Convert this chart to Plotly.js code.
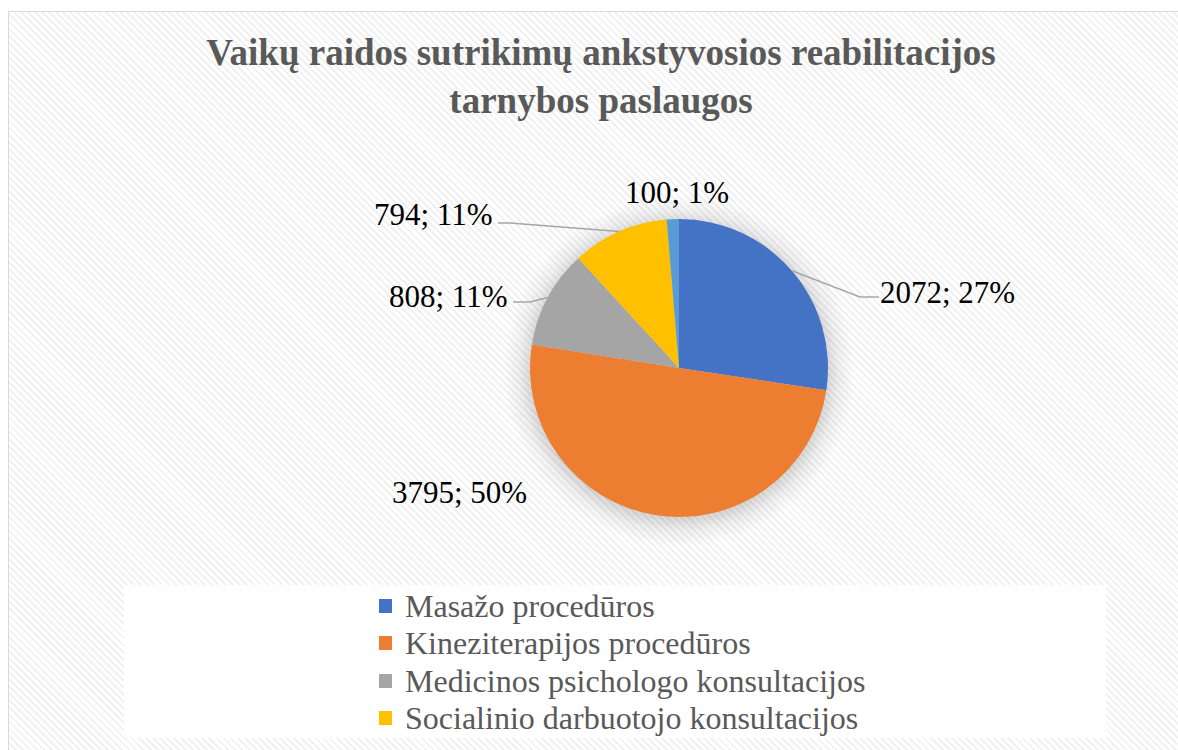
<!DOCTYPE html>
<html><head><meta charset="utf-8">
<script src="https://cdn.plot.ly/plotly-3.0.1.min.js"></script>
<style>
html,body{margin:0;padding:0;background:#fff;}
#wrap{position:relative;width:1178px;height:750px;overflow:hidden;background:#fff;}
#frame{position:absolute;left:8px;top:11px;width:1220px;height:800px;border:1px solid #d9d9d9;
 background:
  radial-gradient(circle at 670px 359px, rgba(0,0,0,0.15) 148px, rgba(0,0,0,0.06) 160px, rgba(0,0,0,0) 176px),
  repeating-linear-gradient(45deg,#ffffff 0px,#ffffff 3px,#f1f1f1 3px,#f1f1f1 5px);}
#chart{position:absolute;left:0;top:0;width:1178px;height:750px;}
</style></head>
<body>
<div id="wrap"><div id="frame"></div><div id="chart"></div></div>
<script>
// ---- data ----
const categories = ['Masažo procedūros','Kineziterapijos procedūros','Medicinos psichologo konsultacijos','Socialinio darbuotojo konsultacijos','Kitos paslaugos'];
const values = [2072, 3795, 808, 794, 100];
const percentLabels = ['27%', '50%', '11%', '11%', '1%'];
const colors = ['#4472C4', '#ED7D31', '#A5A5A5', '#FFC000', '#5B9BD5'];
const legendShown = 4;
const titleText = 'Vaikų raidos sutrikimų ankstyvosios reabilitacijos<br>tarnybos paslaugos';

// ---- layout geometry (pixels) ----
const W = 1178, H = 750;
const FONT = 'Liberation Serif';
const cx = 679, cy = 368, R = 149;
const labelCenters = [[947, 292], [459, 492], [448, 296], [433, 214], [677, 192]];
const leaderElbows = [[[860, 297], [879, 297]], null, [[530, 302], [513, 302]], [[510, 223], [498, 223]], null];
const px = x => x / W, py = y => 1 - y / H;

const total = values.reduce((a, b) => a + b, 0);
let cum = 0;
const shapes = [], annotations = [];
values.forEach((v, i) => {
  const mid = (cum + v / 2) / total * 2 * Math.PI;
  cum += v;
  const ex = cx + R * Math.sin(mid), ey = cy - R * Math.cos(mid);
  annotations.push({
    x: px(labelCenters[i][0]), y: py(labelCenters[i][1]), xref: 'paper', yref: 'paper',
    xanchor: 'center', yanchor: 'middle', showarrow: false,
    text: values[i] + '; ' + percentLabels[i],
    font: {family: FONT, size: 31, color: '#000000'}
  });
  if (leaderElbows[i]) {
    const pts = [[ex, ey]].concat(leaderElbows[i]);
    const path = pts.map((p, k) => (k ? 'L' : 'M') + px(p[0]) + ',' + py(p[1])).join(' ');
    shapes.push({type: 'path', xref: 'paper', yref: 'paper', path: path,
      line: {color: '#A6A6A6', width: 1.5}});
  }
});

// legend box
shapes.push({type: 'rect', xref: 'paper', yref: 'paper', layer: 'below',
  x0: px(124), x1: px(1106), y0: py(585), y1: py(738), fillcolor: '#ffffff', line: {width: 0}});
const legendRowY = [606, 643, 681, 718];
for (let i = 0; i < legendShown; i++) {
  shapes.push({type: 'rect', xref: 'paper', yref: 'paper',
    x0: px(379), x1: px(392), y0: py(legendRowY[i] - 7), y1: py(legendRowY[i] + 7),
    fillcolor: colors[i], line: {width: 0}});
  annotations.push({x: px(403), y: py(legendRowY[i]), xref: 'paper', yref: 'paper',
    xanchor: 'left', yanchor: 'middle', showarrow: false, text: categories[i],
    font: {family: FONT, size: 32, color: '#595959'}});
}

const trace = {
  type: 'pie', labels: categories, values: values, sort: false, direction: 'clockwise',
  rotation: 0, textinfo: 'none', hoverinfo: 'label+value+percent',
  marker: {colors: colors, line: {color: '#ffffff', width: 0}},
  domain: {x: [px(cx - R), px(cx + R)], y: [py(cy + R), py(cy - R)]},
  showlegend: false
};

const layout = {
  width: W, height: H, margin: {l: 0, r: 0, t: 0, b: 0},
  paper_bgcolor: 'rgba(0,0,0,0)', plot_bgcolor: 'rgba(0,0,0,0)',
  showlegend: false,
  title: {text: '<b>' + titleText + '</b>', x: 601 / W, xanchor: 'center', y: py(65), yanchor: 'middle',
    font: {family: FONT, size: 37, color: '#595959'}},
  shapes: shapes, annotations: annotations
};
Plotly.newPlot('chart', [trace], layout, {displayModeBar: false, staticPlot: true});
</script>
</body></html>
